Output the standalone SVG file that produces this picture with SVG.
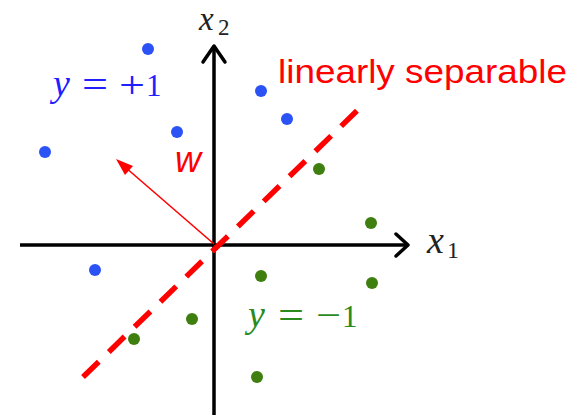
<svg xmlns="http://www.w3.org/2000/svg" width="569" height="415" viewBox="0 0 569 415">
<style>
.axis{stroke:#000;stroke-width:3.5;fill:none}
.head{stroke:#000;stroke-width:3.5;fill:none;stroke-linecap:round;stroke-linejoin:round}
.pos{fill:#2a52f5}
.neg{fill:#3f7f0f}
.math{font-family:"Liberation Serif",serif;font-style:italic}
.rm{font-family:"Liberation Serif",serif}
</style>
<rect width="569" height="415" fill="#fff"/>
<g id="connectors">
<line class="axis" x1="20" y1="245" x2="406" y2="245"/>
<polyline class="head" points="396,234 408,245 396,256"/>
<line class="axis" x1="214" y1="415" x2="214" y2="47"/>
<polyline class="head" points="203,62 214,46 225,62"/>
<line x1="83" y1="377" x2="367" y2="101" stroke="#ff0000" stroke-width="5.5" stroke-dasharray="22,14"/>
<line x1="214" y1="244" x2="125" y2="167" stroke="#ff0000" stroke-width="1.6"/>
<path d="M116,159 L133,166 L125,175 z" fill="#ff0000"/>
</g>
<g id="positive-points">
<circle class="pos" cx="148" cy="49" r="6"/>
<circle class="pos" cx="261" cy="91" r="6"/>
<circle class="pos" cx="287" cy="119" r="6"/>
<circle class="pos" cx="177" cy="132" r="6"/>
<circle class="pos" cx="45" cy="152" r="6"/>
<circle class="pos" cx="95" cy="270" r="6"/>
</g>
<g id="negative-points">
<circle class="neg" cx="319" cy="169" r="6"/>
<circle class="neg" cx="371" cy="223" r="6"/>
<circle class="neg" cx="261" cy="276" r="6"/>
<circle class="neg" cx="372" cy="283" r="6"/>
<circle class="neg" cx="192" cy="319" r="6"/>
<circle class="neg" cx="134" cy="339" r="6"/>
<circle class="neg" cx="257" cy="377" r="6"/>
</g>
<g id="label-x1" fill="#222">
<text class="math" x="427" y="253" font-size="38">x</text>
<text class="rm" x="447" y="258" font-size="24">1</text>
</g>
<g id="label-x2" fill="#222">
<text class="math" x="199" y="30" font-size="33">x</text>
<text class="rm" x="218" y="35" font-size="23">2</text>
</g>
<g id="label-sep">
<text x="278" y="83" font-family="Liberation Sans,Arial,sans-serif" font-size="34" fill="#ff0000" textLength="289" lengthAdjust="spacingAndGlyphs">linearly separable</text>
</g>
<g id="label-w">
<text x="175" y="172" font-family="Liberation Sans,Arial,sans-serif" font-style="italic" font-size="36" fill="#ff0000">w</text>
</g>
<g id="label-pos" fill="#1f1fff">
<text class="math" x="53" y="96" font-size="38">y</text>
<text class="rm" x="82" y="97" font-size="38" textLength="26" lengthAdjust="spacingAndGlyphs">=</text>
<text class="rm" x="119" y="98" font-size="38" textLength="26" lengthAdjust="spacingAndGlyphs">+</text>
<text class="rm" x="146" y="96" font-size="31">1</text>
</g>
<g id="label-neg" fill="#2a8a1e">
<text class="math" x="248" y="327" font-size="38">y</text>
<text class="rm" x="278" y="328" font-size="38" textLength="26" lengthAdjust="spacingAndGlyphs">=</text>
<text class="rm" x="316" y="328" font-size="38" textLength="25" lengthAdjust="spacingAndGlyphs">−</text>
<text class="rm" x="342" y="327" font-size="31">1</text>
</g>
</svg>
